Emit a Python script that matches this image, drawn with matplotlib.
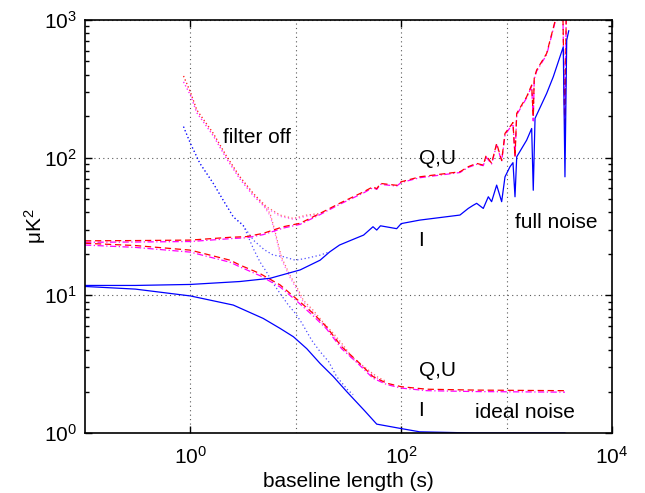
import matplotlib
matplotlib.use("Agg")
import matplotlib.pyplot as plt
from matplotlib.ticker import LogLocator, FixedLocator, NullFormatter

plt.rcParams["font.family"] = ["Liberation Sans", "DejaVu Sans"]
plt.rcParams["mathtext.fontset"] = "custom"
plt.rcParams["mathtext.rm"] = "Liberation Sans"
plt.rcParams["mathtext.it"] = "Liberation Sans:italic"

# === Full noise: I ===
full_i_x = [0.1, 0.3, 1, 2.95, 5.7, 11, 17, 21, 26, 35, 44, 54, 58.6, 63.6, 90.6, 100, 150, 361,
            433, 480, 520, 601, 671, 721, 805, 898, 966, 1077, 1150, 1202, 1248, 1550, 1730, 1791,
            1862, 2400, 2774, 3450, 3580, 3720, 3890]
full_i_y = [11.8, 11.8, 12.0, 12.6, 13.3, 15.3, 18.0, 20.7, 23.2, 25.5, 27.4, 31.5, 29.8, 32.0, 30.5, 33.2,
            35.2, 38.3, 42.8, 45.0, 46.6, 42.8, 52.0, 47.9, 63.2, 47.9, 72.6, 85.9, 92.0, 52.0, 101.5, 134,
            163, 58.0, 193, 293, 387, 638, 72.6, 715, 835]

# === Full noise: Q (red) and U (magenta) ===
full_q_x = [0.1, 0.3, 1, 2.38, 3.4, 4.9, 7.6, 11, 17, 26, 44, 54, 58.6, 63.6, 90.6, 100, 150, 361,
            433, 520, 601, 640, 721, 805, 898, 966, 1077, 1150, 1202, 1248, 1550, 1730, 1791, 1830,
            1928, 2400, 2900, 3400, 3580, 3700]
full_q_y = [24.9, 25.0, 25.2, 26.4, 26.7, 28.2, 31.5, 33.4, 39.4, 46.6, 56.5, 61.5, 59.5, 65.0, 63.0, 66.8,
            72.6, 79.0, 86.0, 90.9, 88.3, 104, 91.0, 127, 95.5, 150, 168, 180, 101.5, 210, 277, 337,
            198, 380, 433, 572, 1000, 1500, 142, 1700]
full_u_x = [0.1, 0.3, 1, 2.38, 3.4, 4.9, 7.6, 11, 17, 26, 44, 54, 58.6, 63.6, 90.6, 100, 150, 361,
            433, 520, 601, 640, 721, 805, 898, 966, 1077, 1150, 1202, 1248, 1550, 1730, 1791, 1830,
            1928, 2400, 2900, 3400, 3580, 3700]
full_u_y = [24.3, 24.4, 24.6, 25.8, 26.2, 27.6, 30.8, 32.8, 38.6, 45.8, 55.5, 60.5, 58.8, 64.0, 62.2, 66.0,
            71.5, 78.0, 85.0, 89.5, 87.5, 101, 90.0, 124, 94.0, 146, 165, 176, 101.5, 205, 272, 330,
            185, 372, 425, 560, 980, 1450, 142, 1650]

# === Ideal noise ===
ideal_i_x = [0.1, 0.3, 1, 2.55, 4.9, 7.1, 9.5, 12.7, 17, 22.7, 30.4, 45, 58.6, 98, 150, 500, 3580]
ideal_i_y = [11.6, 11.1, 9.9, 8.5, 6.8, 5.75, 5.0, 4.1, 3.2, 2.57, 2.0, 1.45, 1.16, 1.08, 1.02, 1.0, 1.0]
ideal_q_x = [0.1, 0.3, 1, 2.38, 2.95, 4.57, 7.1, 10.2, 14.6, 19.6, 27.2, 38.8, 54, 73, 100, 175, 500, 3580]
ideal_q_y = [23.9, 23.0, 21.3, 18.0, 16.6, 14.4, 11.9, 9.4, 7.4, 5.9, 4.24, 3.3, 2.57, 2.3, 2.17, 2.08, 2.05, 2.03]
ideal_u_y = [23.2, 22.3, 20.6, 17.4, 16.1, 13.9, 11.5, 9.1, 7.1, 5.7, 4.1, 3.2, 2.5, 2.25, 2.12, 2.03, 2.0, 1.98]

# === Filter off (dotted) ===
off_full_i_x = [0.86, 1.0, 1.23, 1.65, 2.05, 2.55, 3.17, 4.0, 5.0, 6.1, 7.6, 9.9, 12.7, 17, 21]
off_full_i_y = [168, 127, 91, 65, 49, 37.2, 32.0, 25.0, 21.5, 19.6, 19.1, 18.0, 18.6, 19.6, 20.7]
off_ideal_i_x = [0.86, 1.0, 1.23, 1.65, 2.05, 2.55, 3.17, 3.95, 4.57, 5.27, 6.1, 7.3, 8.5, 9.9, 11.4,
                 14.2, 17, 20.5, 24.4, 31.2, 35]
off_ideal_i_y = [168, 127, 91, 65, 49, 37.2, 32.4, 21.9, 17.5, 14.8, 12.2, 10.0, 8.5, 7.4, 6.3,
                 4.7, 3.9, 3.3, 2.57, 2.05, 1.9]
off_full_q_x = [0.86, 1.0, 1.15, 1.65, 2.21, 2.95, 3.95, 5.3, 7.1, 9.5, 12.7, 17]
off_full_q_y = [392, 300, 222, 150, 102, 72.6, 55, 44, 38.3, 36.2, 38.3, 39.4]
off_full_u_y = [355, 285, 212, 144, 98, 70, 53, 43, 37.5, 35.6, 37.6, 38.6]
off_ideal_q_x = [0.86, 1.0, 1.15, 1.65, 2.21, 2.95, 3.95, 5.0, 5.7, 6.3, 7.3, 8.8, 10.6, 11.8, 14.6,
                 18.4, 22.7, 27.2, 33.8, 46.4, 58.6, 73]
off_ideal_q_y = [392, 300, 222, 150, 102, 72.6, 55, 45, 39.4, 30, 19, 14.0, 10.9, 9.2, 7.8,
                 6.3, 5.3, 4.5, 3.6, 2.95, 2.57, 2.36]
off_ideal_u_y = [355, 285, 212, 144, 98, 70, 53, 44, 38, 29, 18.3, 13.5, 10.5, 8.9, 7.5,
                 6.1, 5.1, 4.35, 3.5, 2.9, 2.5, 2.3]

# === Figure ===
fig = plt.figure(figsize=(6.45, 4.93), dpi=100)
ax = fig.add_axes([0.1318, 0.1217, 0.8170, 0.8377])

dot = (0, (1, 2))
dash = (0, (5, 3))
dashdot = (0, (5, 2, 1, 2))
lw = 0.9

# filter off
ax.plot(off_full_i_x, off_full_i_y, color="blue", ls=dot, lw=lw, alpha=0.7)
ax.plot(off_ideal_i_x, off_ideal_i_y, color="blue", ls=dot, lw=lw, alpha=0.7)
ax.plot(off_full_q_x, off_full_q_y, color="red", ls=dot, lw=lw, alpha=0.6)
ax.plot(off_full_q_x, off_full_u_y, color="magenta", ls=dot, lw=lw, alpha=0.6)
ax.plot(off_ideal_q_x, off_ideal_q_y, color="red", ls=dot, lw=lw, alpha=0.6)
ax.plot(off_ideal_q_x, off_ideal_u_y, color="magenta", ls=dot, lw=lw, alpha=0.6)

# filter on
ax.plot(full_u_x, full_u_y, color="magenta", ls=dashdot, lw=lw)
ax.plot(full_q_x, full_q_y, color="red", ls=dash, lw=lw)
ax.plot(ideal_q_x, ideal_u_y, color="magenta", ls=dashdot, lw=lw)
ax.plot(ideal_q_x, ideal_q_y, color="red", ls=dash, lw=lw)
ax.plot(full_i_x, full_i_y, color="blue", ls="-", lw=lw)
ax.plot(ideal_i_x, ideal_i_y, color="blue", ls="-", lw=lw)

# === Axes ===
ax.set_xscale("log")
ax.set_yscale("log")
ax.set_xlim(0.1, 1e4)
ax.set_ylim(1, 1e3)

ax.xaxis.set_major_locator(FixedLocator([1, 100, 1e4]))
ax.xaxis.set_minor_locator(FixedLocator([10, 1000]))
ax.xaxis.set_minor_formatter(NullFormatter())
ax.yaxis.set_major_locator(LogLocator(base=10, numticks=10))
ax.yaxis.set_minor_locator(LogLocator(base=10, subs=range(2, 10), numticks=10))
ax.yaxis.set_minor_formatter(NullFormatter())

ax.tick_params(which="both", direction="in", top=True, right=True, labelsize=15, width=1)
ax.tick_params(which="major", length=5, pad=6)
ax.tick_params(axis="x", which="major", pad=9)
ax.tick_params(which="minor", length=3)
ax.tick_params(axis="x", which="minor", length=0)
for s in ax.spines.values():
    s.set_linewidth(1.2)

grid_style = dict(ls=(0, (1, 3)), color="0.35", lw=0.8)
ax.grid(True, which="major", axis="y", **grid_style)
ax.grid(True, which="both", axis="x", **grid_style)

ax.set_xlabel("baseline length (s)", fontsize=15, labelpad=3)
ax.set_ylabel("μK$^2$", fontsize=15, labelpad=-3)

# === Labels ===
txt = dict(fontsize=15, ha="center", va="center")
ax.text(4.28, 139, "filter off", **txt)
ax.text(219, 99, "Q,U", **txt)
ax.text(2945, 34, "full noise", **txt)
ax.text(154, 25, "I", **txt)
ax.text(219, 2.85, "Q,U", **txt)
ax.text(154, 1.45, "I", **txt)
ax.text(1496, 1.42, "ideal noise", **txt)

fig.savefig("out.png", dpi=100)
